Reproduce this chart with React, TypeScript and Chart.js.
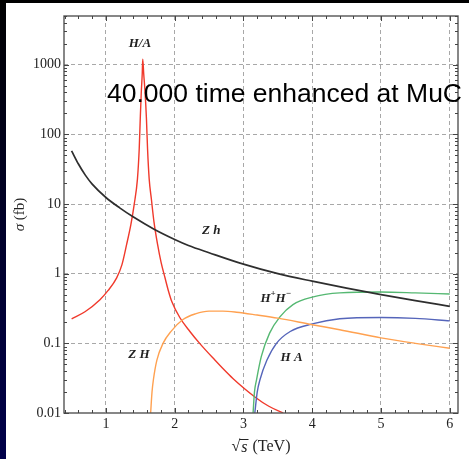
import React, { useEffect, useRef } from 'react';
import { Chart, registerables } from 'chart.js';
Chart.register(...registerables);

// ---- data (sqrt(s) in TeV, sigma in fb) ----
const haX = [0.501, 0.695, 0.913, 1.029, 1.156, 1.233, 1.301, 1.363, 1.411, 1.458, 1.484, 1.499, 1.513, 1.528, 1.535, 1.549, 1.57, 1.589, 1.605, 1.629, 1.661, 1.698, 1.751, 1.802, 1.858, 1.908, 1.959, 2.076, 2.221, 2.366, 2.584, 2.708, 2.846, 3.166, 3.369, 3.577];
const haY = [0.225, 0.284, 0.423, 0.57, 0.87, 1.35, 2.63, 5.1, 9.9, 22.8, 62, 167, 385, 747, 1200, 747, 385, 167, 62, 22.8, 11.7, 5.6, 2.63, 1.45, 0.88, 0.57, 0.395, 0.233, 0.148, 0.099, 0.0575, 0.0427, 0.0313, 0.017, 0.0125, 0.01];

const zhX = [0.5, 0.6, 0.7, 0.8, 1.0, 1.2, 1.4, 1.7, 2.0, 2.2, 2.5, 3.0, 3.5, 4.0, 4.5, 5.0, 5.5, 6.0];
const zhY = [58, 37.5, 26, 19.3, 12.4, 8.8, 6.5, 4.35, 3.1, 2.54, 2.0, 1.37, 1.0, 0.78, 0.62, 0.5, 0.41, 0.34];

const zHX = [1.65, 1.67, 1.69, 1.74, 1.83, 1.95, 2.12, 2.3, 2.5, 2.7, 2.9, 3.2, 3.5, 4.0, 4.4, 5.0, 5.5, 6.0];
const zHY = [0.01, 0.02, 0.03, 0.057, 0.1, 0.15, 0.22, 0.265, 0.29, 0.29, 0.28, 0.255, 0.23, 0.185, 0.157, 0.12, 0.1, 0.085];

const hpmX = [3.14, 3.16, 3.19, 3.26, 3.38, 3.53, 3.72, 4.0, 4.4, 5.0, 5.5, 6.0];
const hpmY = [0.01, 0.02, 0.03, 0.065, 0.14, 0.24, 0.36, 0.46, 0.53, 0.545, 0.53, 0.51];

const hAX = [3.165, 3.2, 3.24, 3.34, 3.48, 3.68, 4.0, 4.4, 5.0, 5.5, 6.0];
const hAY = [0.01, 0.02, 0.03, 0.057, 0.1, 0.148, 0.19, 0.225, 0.235, 0.228, 0.21];

const xTickValues = [1, 2, 3, 4, 5, 6];
const yTickValues = [0.01, 0.1, 1, 10, 100, 1000];
const yTickLabels = ['0.01', '0.1', '1', '10', '100', '1000'];

const pts = (xs: number[], ys: number[]) => xs.map((x, i) => ({ x, y: ys[i] }));

const SERIF = '"Liberation Serif", "Times New Roman", serif';

function drawSegs(ctx: CanvasRenderingContext2D, segs: { t: string; f: string; dy?: number }[], cx: number, cy: number) {
  let w = 0;
  segs.forEach(s => { ctx.font = s.f; w += ctx.measureText(s.t).width; });
  let x = cx - w / 2;
  ctx.textAlign = 'left';
  ctx.textBaseline = 'middle';
  segs.forEach(s => {
    ctx.font = s.f;
    ctx.fillText(s.t, x, cy + (s.dy || 0));
    x += ctx.measureText(s.t).width;
  });
}

const decorPlugin = {
  id: 'decor',
  afterDraw(chart: any) {
    const { ctx, chartArea: a, scales } = chart;
    const xs = scales.x, ys = scales.y;
    ctx.save();
    // frame
    ctx.strokeStyle = '#555';
    ctx.lineWidth = 1.4;
    ctx.setLineDash([]);
    ctx.strokeRect(a.left, a.top, a.right - a.left, a.bottom - a.top);
    // x ticks
    ctx.lineWidth = 1;
    ctx.strokeStyle = '#444';
    for (let k = 2; k <= 30; k++) {
      const v = k / 5;
      const major = k % 5 === 0;
      const len = major ? 5 : 3;
      const px = Math.round(xs.getPixelForValue(v)) + 0.5;
      ctx.beginPath();
      ctx.moveTo(px, a.bottom); ctx.lineTo(px, a.bottom - len);
      ctx.moveTo(px, a.top); ctx.lineTo(px, a.top + len);
      ctx.stroke();
    }
    // y ticks
    for (let e = -2; e <= 3; e++) {
      for (let m = 1; m <= 9; m++) {
        const v = m * Math.pow(10, e);
        if (v > 5000) continue;
        const len = m === 1 ? 5 : 3;
        const py = Math.round(ys.getPixelForValue(v)) + 0.5;
        ctx.beginPath();
        ctx.moveTo(a.left, py); ctx.lineTo(a.left + len, py);
        ctx.moveTo(a.right, py); ctx.lineTo(a.right - len, py);
        ctx.stroke();
      }
    }
    // annotations
    ctx.fillStyle = '#222';
    const bi = 'italic bold 13px ' + SERIF;
    const biS = 'italic bold 9px ' + SERIF;
    const X = (v: number) => xs.getPixelForValue(v);
    const Y = (v: number) => ys.getPixelForValue(v);
    drawSegs(ctx, [{ t: 'H/A', f: bi }], X(1.494), Y(2020));
    drawSegs(ctx, [{ t: 'Z h', f: bi }], X(2.53), Y(4.1));
    drawSegs(ctx, [{ t: 'H', f: bi }, { t: '+', f: biS, dy: -5 }, { t: 'H', f: bi }, { t: '\u2212', f: biS, dy: -5 }], X(3.47), Y(0.44));
    drawSegs(ctx, [{ t: 'Z H', f: bi }], X(1.48), Y(0.068));
    drawSegs(ctx, [{ t: 'H A', f: bi }], X(3.7), Y(0.063));

    // big text
    ctx.font = '26.5px "Liberation Sans", Arial, sans-serif';
    ctx.fillStyle = '#000';
    ctx.textAlign = 'left';
    ctx.textBaseline = 'alphabetic';
    ctx.fillText('40.000 time enhanced at MuC', X(1.015), Y(294));

    // y title
    ctx.fillStyle = '#222';
    ctx.save();
    ctx.translate(20, (a.top + a.bottom) / 2);
    ctx.rotate(-Math.PI / 2);
    drawSegs(ctx, [{ t: '\u03c3', f: 'italic 15px ' + SERIF }, { t: ' (fb)', f: '15px ' + SERIF }], 0, 0);
    ctx.restore();

    // x title: sqrt(s) (TeV)
    const cx = (a.left + a.right) / 2;
    const cy = 447;
    const fR = '16px ' + SERIF, fI = 'italic 16px ' + SERIF;
    ctx.font = fR; const wRad = ctx.measureText('\u221a').width;
    ctx.font = fI; const wS = ctx.measureText('s').width + 2;
    ctx.font = fR; const wT = ctx.measureText(' (TeV)').width;
    const x0 = cx - (wRad + wS + wT) / 2;
    ctx.textAlign = 'left';
    ctx.textBaseline = 'middle';
    ctx.font = fR; ctx.fillText('\u221a', x0, cy);
    ctx.font = fI; ctx.fillText('s', x0 + wRad + 1, cy + 1);
    ctx.strokeStyle = '#222';
    ctx.lineWidth = 1;
    ctx.beginPath();
    ctx.moveTo(x0 + wRad - 1, cy - 7.5); ctx.lineTo(x0 + wRad + wS, cy - 7.5);
    ctx.stroke();
    ctx.font = fR; ctx.fillText(' (TeV)', x0 + wRad + wS, cy);
    ctx.restore();
  },
};

export default function App() {
  const ref = useRef<HTMLCanvasElement | null>(null);
  useEffect(() => {
    if (!ref.current) return;
    const line = (data: any, color: string, width = 1.4) => ({
      data, borderColor: color, borderWidth: width, pointRadius: 0, fill: false,
      cubicInterpolationMode: 'monotone',
    });
    const chart = new Chart(ref.current, {
      type: 'line',
      data: {
        datasets: [
          line(pts(zhX, zhY), '#2e2e2e', 1.7),
          line(pts(zHX, zHY), '#ffa150', 1.4),
          line(pts(hpmX, hpmY), '#55b872', 1.4),
          line(pts(hAX, hAY), '#5565ba', 1.4),
          line(pts(haX, haY), '#f0392b', 1.4),
        ] as any,
      },
      options: {
        animation: false,
        responsive: false,
        events: [],
        layout: { padding: { left: 0, top: 16, right: 11, bottom: 0 } },
        plugins: { legend: { display: false }, tooltip: { enabled: false } },
        scales: {
          x: {
            type: 'linear', min: 0.39, max: 6.12,
            afterFit: (s: any) => { s.height = 46; },
            afterBuildTicks: (s: any) => { s.ticks = xTickValues.map(v => ({ value: v })); },
            grid: { color: '#a8a8a8', lineWidth: 1, drawTicks: false },
            border: { display: false, dash: [4, 3] },
            ticks: { font: { family: SERIF, size: 14 }, color: '#222', padding: 3, maxRotation: 0, autoSkip: false, callback: (v: any) => String(v) },
          },
          y: {
            type: 'logarithmic', min: 0.01, max: 5000,
            afterFit: (s: any) => { s.width = 64; },
            afterBuildTicks: (s: any) => { s.ticks = yTickValues.map(v => ({ value: v })); },
            grid: { color: (c: any) => (c.tick && c.tick.value === 0.01 ? 'rgba(0,0,0,0)' : '#a8a8a8'), lineWidth: 1, drawTicks: false },
            border: { display: false, dash: [4, 3] },
            ticks: {
              font: { family: SERIF, size: 14 }, color: '#222', padding: 3, autoSkip: false,
              callback: (v: any) => { const i = yTickValues.indexOf(Number(v)); return i >= 0 ? yTickLabels[i] : ''; },
            },
          },
        },
      } as any,
      plugins: [decorPlugin],
    });
    return () => chart.destroy();
  }, []);

  return (
    <div style={{ position: 'fixed', left: 0, top: 0, width: 469, height: 459, background: 'linear-gradient(180deg, #000 0%, #00002a 50%, #00004a 100%)', overflow: 'hidden' }}>
      <div style={{ position: 'absolute', left: 6, top: 3, right: 0, bottom: 0, background: '#fff' }} />
      <canvas ref={ref} width={469} height={459} style={{ position: 'absolute', left: 0, top: 0, width: 469, height: 459 }} />
    </div>
  );
}
